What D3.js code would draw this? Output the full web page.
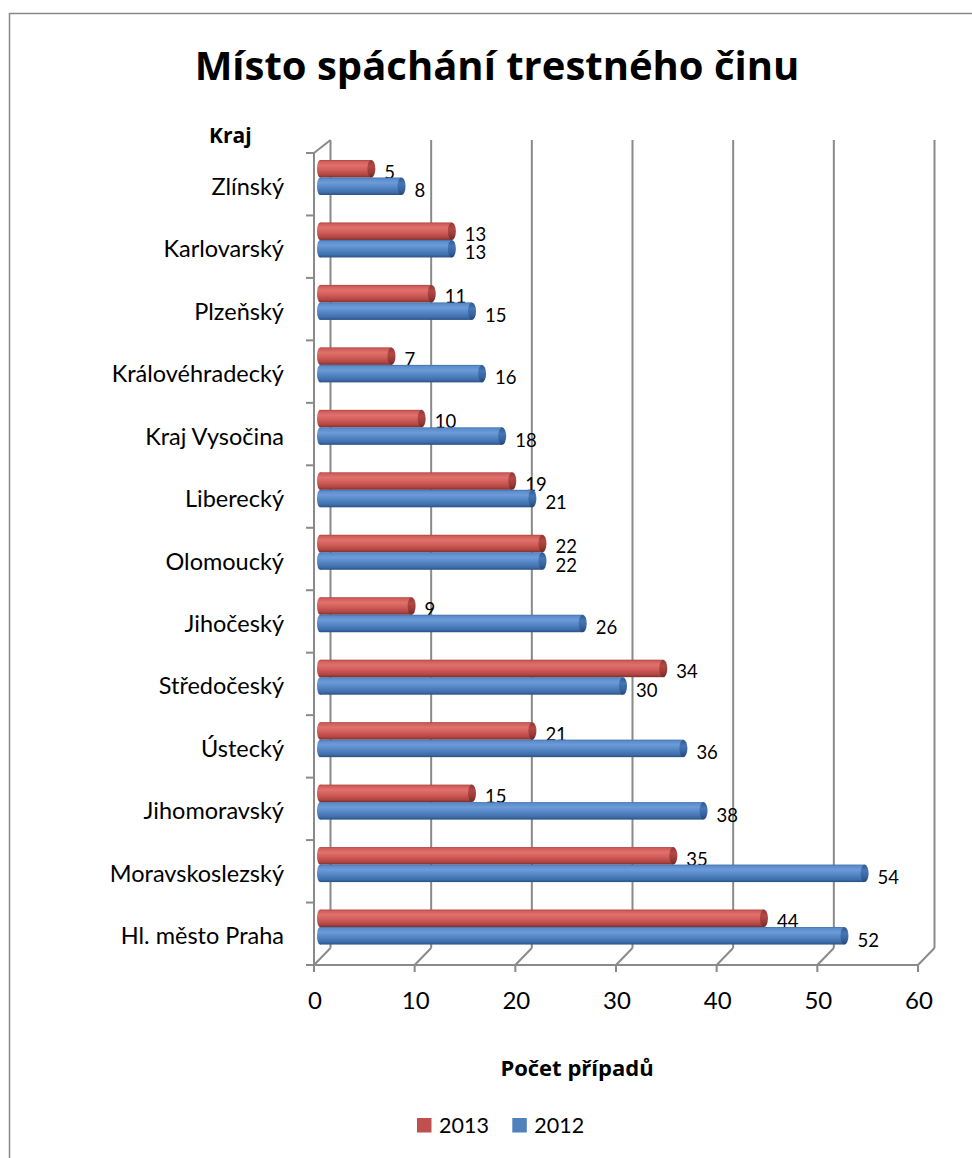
<!DOCTYPE html>
<html><head><meta charset="utf-8">
<script src="https://cdn.jsdelivr.net/npm/d3@7"></script>
<style>body{margin:0;background:#fff} svg{display:block} text{font-family:Lato,"Noto Sans",sans-serif;fill:#000} text.b{font-family:"Open Sans","Noto Sans",sans-serif;font-weight:bold}</style>
</head><body><svg id="c" width="972" height="1158"></svg>
<script>
const categories = ["Zlínský","Karlovarský","Plzeňský","Královéhradecký","Kraj Vysočina","Liberecký","Olomoucký","Jihočeský","Středočeský","Ústecký","Jihomoravský","Moravskoslezský","Hl. město Praha"];
const series = ["2013","2012"];
const values2013 = [5,13,11,7,10,19,22,9,34,21,15,35,44];
const values2012 = [8,13,15,16,18,21,22,26,30,36,38,54,52];
const xTicks = [0,10,20,30,40,50,60];
const seriesColors = ["#C0504D","#4F81BD"];

const svg = d3.select("#c");
const x = d3.scaleLinear().domain([0,60]).range([314,918]);
const y = d3.scaleBand().domain(categories).range([153,965]);
const inner = d3.scaleBand().domain(series).range([7,42]);
const dx = 16.5, floorY = 965, backBottom = 948, backTop = 140;
const grid = "#8a8a8a";

// border
svg.append("rect").attr("x",9.5).attr("y",13.5).attr("width",1000).attr("height",1200)
  .attr("fill","#fff").attr("stroke","#888").attr("stroke-width",1.5);

// gradients
const defs = svg.append("defs");
function cyl(id, stops){
  const g = defs.append("linearGradient").attr("id",id).attr("x1",0).attr("y1",0).attr("x2",0).attr("y2",1);
  stops.forEach(s=>g.append("stop").attr("offset",s[0]).attr("stop-color",s[1]));
}
cyl("g2013",[[0,"#a9423f"],[0.08,"#d05c58"],[0.3,"#e0716c"],[0.55,"#d35e5a"],[0.85,"#b04643"],[1,"#7e2f2d"]]);
cyl("g2012",[[0,"#3f6ca6"],[0.08,"#5a8ccc"],[0.3,"#6d9bd8"],[0.55,"#5687c6"],[0.85,"#3e6eab"],[1,"#2a5185"]]);
cyl("c2013",[[0,"#8f3734"],[0.35,"#b34845"],[0.7,"#9a3a37"],[1,"#6e2826"]]);
cyl("c2012",[[0,"#30598f"],[0.35,"#4676b4"],[0.7,"#3763a0"],[1,"#234675"]]);

// back gridlines, floor and ticks
const gl = svg.append("g").attr("stroke",grid).attr("stroke-width",2).attr("fill","none");
xTicks.forEach(t=>{
  gl.append("line").attr("x1",x(t)+dx).attr("x2",x(t)+dx).attr("y1",backTop).attr("y2",backBottom);
  gl.append("line").attr("x1",x(t)).attr("y1",floorY).attr("x2",x(t)+dx).attr("y2",backBottom);
  gl.append("line").attr("x1",x(t)).attr("x2",x(t)).attr("y1",floorY).attr("y2",floorY+7);
});
gl.append("line").attr("x1",306).attr("x2",x(60)).attr("y1",floorY).attr("y2",floorY);
// left wall
gl.append("line").attr("x1",x(0)).attr("x2",x(0)).attr("y1",y.range()[0]).attr("y2",floorY);
gl.append("line").attr("x1",x(0)).attr("y1",y.range()[0]).attr("x2",x(0)+dx).attr("y2",backTop);
const bounds = categories.map(c=>y(c)).concat([y.range()[1]]);
bounds.forEach(b=>gl.append("line").attr("x1",306).attr("x2",x(0)).attr("y1",b).attr("y2",b));

// bars
const bh = inner.bandwidth();
const data = [];
categories.forEach((c,i)=>{
  data.push({c, s:"2013", v:values2013[i]});
  data.push({c, s:"2012", v:values2012[i]});
});
const bars = svg.append("g").selectAll("g").data(data).join("g")
  .attr("transform",d=>`translate(0,${y(d.c)+inner(d.s)})`);
bars.append("ellipse").attr("cx",x(0)+6).attr("cy",bh/2).attr("rx",3).attr("ry",bh/2)
  .attr("fill",d=>`url(#g${d.s})`);
bars.append("rect").attr("x",x(0)+6).attr("y",0).attr("width",d=>x(d.v)+7-(x(0)+6)).attr("height",bh)
  .attr("fill",d=>`url(#g${d.s})`);
bars.append("ellipse").attr("cx",d=>x(d.v)+7).attr("cy",bh/2).attr("rx",4).attr("ry",bh/2)
  .attr("fill",d=>`url(#c${d.s})`);
bars.append("text").attr("x",d=>x(d.v)+20).attr("y",d=>d.s==="2013"?18.5:19.5).attr("font-size","18.5px").text(d=>d.v);

// category labels
svg.append("g").selectAll("text").data(categories).join("text")
  .attr("x",284).attr("y",c=>y(c)+y.bandwidth()/2+10.5).attr("text-anchor","end")
  .attr("font-size","23.5px").text(c=>c);

// x tick labels
svg.append("g").selectAll("text").data(xTicks).join("text")
  .attr("x",t=>x(t)+1).attr("y",1009).attr("text-anchor","middle").attr("font-size","24px").text(t=>t);

// titles
svg.append("text").attr("class","b").attr("x",497).attr("y",80).attr("text-anchor","middle").attr("font-size","40px")
  .text("Místo spáchání trestného činu");
svg.append("text").attr("class","b").attr("x",209).attr("y",143).attr("font-size","21px").text("Kraj");
svg.append("text").attr("class","b").attr("x",577).attr("y",1076).attr("text-anchor","middle").attr("font-size","22px")
  .text("Počet případů");

// legend
const lx = d3.scaleOrdinal().domain(series).range([417,512.3]);
const lg = svg.append("g").selectAll("g").data(series).join("g").attr("transform",s=>`translate(${lx(s)},1118)`);
lg.append("rect").attr("width",14.5).attr("height",14.5).attr("fill",(s,i)=>seriesColors[i]);
lg.append("text").attr("x",22).attr("y",15).attr("font-size","21.5px").text(s=>s);
</script></body></html>
